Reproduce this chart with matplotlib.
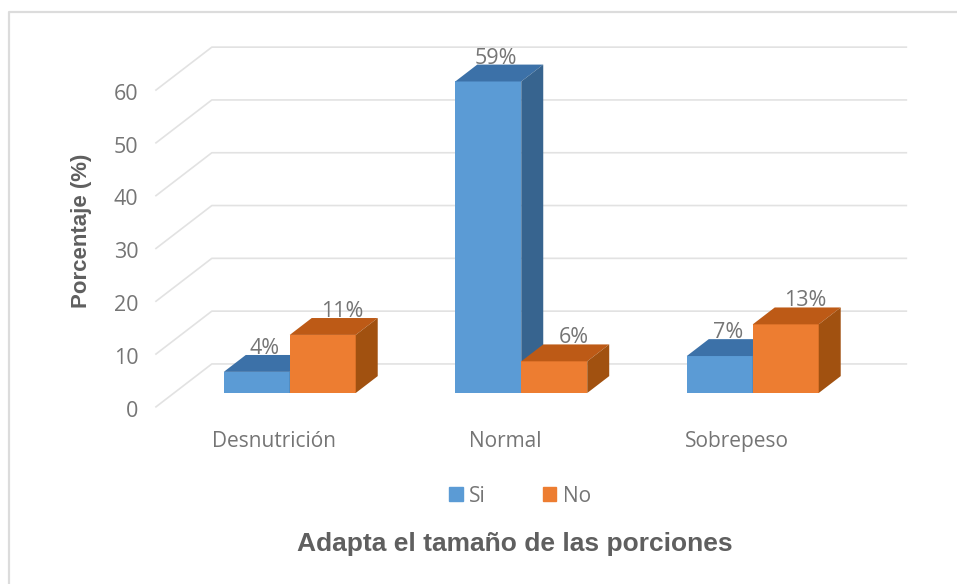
import matplotlib
matplotlib.use('Agg')
import matplotlib.pyplot as plt
from matplotlib.lines import Line2D
from matplotlib.patches import Patch

# datos del gráfico
categorias = ['Desnutrición', 'Normal', 'Sobrepeso']
si = [4, 59, 7]
no = [11, 6, 13]
etiquetas_si = ['4%', '59%', '7%']
etiquetas_no = ['11%', '6%', '13%']
ticks_y = [0, 10, 20, 30, 40, 50, 60]

# estilo
GRIS = '#757575'
GRIS_TITULO = '#5f5f5f'
LINEA = '#e2e2e2'
AZUL = ('#5B9BD5', '#3C71A8', '#37648F')
NARANJA = ('#ED7D31', '#BD5A16', '#A15110')
ANCHO = 0.285
DX, DY = 0.095, 3.2   # profundidad de las barras
ATRAS, FRENTE = 1.72, -0.82   # paredes del grafico, en profundidades de barra

plt.rcParams['font.family'] = ['Open Sans', 'DejaVu Sans']

fig = plt.figure(figsize=(9.57, 5.84), dpi=100, facecolor='white')
# solo se ve el borde de arriba y el de la izquierda
fig.add_artist(Line2D([9/957, 9/957, 1], [0, 1 - 12/584, 1 - 12/584], transform=fig.transFigure,
                      color='#dcdcdc', linewidth=1.6))

ax = fig.add_axes([174/957, 1 - 393/584, 694.5/957, 316.8/584])
ax.set_xlim(-0.5, 2.5)
ax.set_ylim(0, 60)
ax.axis('off')


def barra(x, valor, colores):
    frente, arriba, lado = colores
    ax.bar(x, valor, ANCHO, align='edge', color=frente, zorder=3, clip_on=False)
    der = x + ANCHO
    ax.fill([x, der, der + DX, x + DX], [valor, valor, valor + DY, valor + DY],
            color=arriba, linewidth=0, zorder=3, clip_on=False)
    ax.fill([der, der + DX, der + DX, der], [0, DY, valor + DY, valor],
            color=lado, linewidth=0, zorder=3, clip_on=False)


# paredes y lineas de la grilla
for t in ticks_y:
    x0 = -0.5 + FRENTE * DX
    y0 = t + FRENTE * DY
    x1 = -0.5 + ATRAS * DX
    y1 = t + ATRAS * DY
    ax.plot([x0, x1, 2.5 + ATRAS * DX], [y0, y1, y1], color=LINEA, linewidth=1.2,
            zorder=1, clip_on=False)
    ax.text(x0 - 0.076, y0 - 0.8, str(t), ha='right', va='center', color=GRIS, fontsize=15.5)

# barras
for i, cat in enumerate(categorias):
    barra(i - ANCHO, si[i], AZUL)
    barra(i, no[i], NARANJA)
    ax.text(i - ANCHO / 2 + 0.035, si[i] + 4.4, etiquetas_si[i], ha='center', va='center',
            color=GRIS, fontsize=15.5, zorder=5)
    ax.text(i + ANCHO / 2 + 0.085, no[i] + 4.5, etiquetas_no[i], ha='center', va='center',
            color=GRIS, fontsize=15.5, zorder=5)
    ax.text(i - 0.07, -9.1, cat, ha='center', va='center', color=GRIS, fontsize=15)

# leyenda
fig.legend(handles=[Patch(color=AZUL[0], label='Si'), Patch(color=NARANJA[0], label='No')],
           loc='center', bbox_to_anchor=(520/957, 1 - 496/584), ncol=2, frameon=False,
           handlelength=0.65, handleheight=0.65, handletextpad=0.3, columnspacing=2.73,
           labelcolor=GRIS, fontsize=15)

# titulos de los ejes
fig.text(515/957, 1 - 544/584, 'Adapta el tamaño de las porciones', ha='center', va='center',
         color=GRIS_TITULO, fontsize=19, fontweight='bold', family='Liberation Sans')
fig.text(82/957, 1 - 231/584, 'Porcentaje (%)', rotation=90, ha='center', va='center',
         color=GRIS_TITULO, fontsize=16, fontweight='bold', family='Liberation Sans')

plt.savefig('out.png', dpi=100)
plt.close()
